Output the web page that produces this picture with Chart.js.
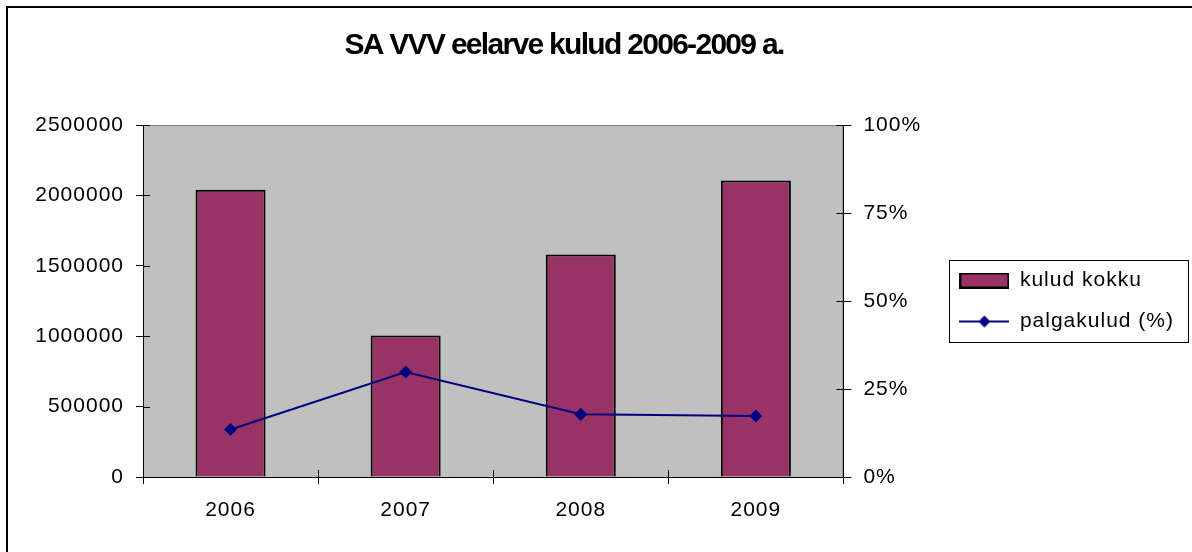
<!DOCTYPE html>
<html>
<head>
<meta charset="utf-8">
<script src="https://cdn.jsdelivr.net/npm/chart.js@4.4.1/dist/chart.umd.min.js"></script>
<style>
  html, body { margin: 0; padding: 0; background: #fff; overflow: hidden; }
  #frame { position: absolute; left: 6px; top: 6px; width: 1300px; height: 700px; border-left: 2px solid #000; border-top: 2px solid #000; }
  #wrap { position: absolute; left: 0; top: 0; width: 1192px; height: 552px; }
</style>
</head>
<body>
<div id="frame"></div>
<div id="wrap"><canvas id="myChart"></canvas></div>
<script>
const years = ['2006', '2007', '2008', '2009'];
const kuludKokku = [2040000, 1005000, 1580000, 2105000];
const palgakulud = [0.135, 0.298, 0.178, 0.173];
const leftTicks = [0, 500000, 1000000, 1500000, 2000000, 2500000];
const rightTicks = [0, 0.25, 0.5, 0.75, 1];

Chart.defaults.font.family = '"Liberation Sans", Arial, sans-serif';
Chart.defaults.color = '#000';

// legend swatches like in Excel
function swatch(w, h, draw) {
    const c = document.createElement('canvas');
    c.width = w;
    c.height = h;
    draw(c.getContext('2d'));
    return c;
}
const barSwatch = swatch(50, 16, g => {
    g.fillStyle = '#993366';
    g.fillRect(1, 1, 48, 14);
    g.strokeStyle = '#000';
    g.lineWidth = 2;
    g.strokeRect(1, 1, 48, 14);
});
const lineSwatch = swatch(50, 14, g => {
    g.strokeStyle = '#000080';
    g.lineWidth = 2;
    g.beginPath();
    g.moveTo(0, 7);
    g.lineTo(50, 7);
    g.stroke();
    g.fillStyle = '#000080';
    g.beginPath();
    g.moveTo(25, 1);
    g.lineTo(31, 7);
    g.lineTo(25, 13);
    g.lineTo(19, 7);
    g.closePath();
    g.fill();
});
const swatches = [barSwatch, lineSwatch];

const plotArea = {
    id: 'plotArea',
    afterInit(chart) {
        // title text is set tighter than the axis text
        const tb = chart.titleBlock;
        const drawTitle = tb.draw.bind(tb);
        tb.draw = function () {
            chart.ctx.save();
            chart.ctx.letterSpacing = '-1.7px';
            drawTitle();
            chart.ctx.restore();
        };
    },
    beforeLayout(chart) {
        chart.ctx.letterSpacing = '1px';
    },
    beforeDraw(chart) {
        const { ctx, chartArea: a } = chart;
        ctx.letterSpacing = '1px';
        ctx.save();
        ctx.fillStyle = '#C0C0C0';
        ctx.fillRect(a.left, a.top, a.width, a.height);
        ctx.strokeStyle = '#808080';
        ctx.lineWidth = 1;
        ctx.strokeRect(a.left + 0.5, a.top + 0.5, a.width - 1, a.height);
        ctx.restore();
    },
    afterDraw(chart) {
        const { ctx, chartArea: a, scales } = chart;
        ctx.save();
        ctx.strokeStyle = '#000';
        ctx.lineWidth = 1;
        ctx.beginPath();
        scales.y.ticks.forEach((t, i) => {
            const y = Math.round(scales.y.getPixelForTick(i)) + 0.5;
            ctx.moveTo(a.left, y);
            ctx.lineTo(a.left + 7, y);
        });
        scales.y1.ticks.forEach((t, i) => {
            const y = Math.round(scales.y1.getPixelForTick(i)) + 0.5;
            ctx.moveTo(a.right - 7, y);
            ctx.lineTo(a.right, y);
        });
        const n = years.length;
        for (let i = 0; i <= n; i++) {
            const x = Math.round(a.left + i * a.width / n) + 0.5;
            ctx.moveTo(x, a.bottom - 7);
            ctx.lineTo(x, a.bottom);
        }
        ctx.stroke();

        // legend frame
        const hb = chart.legend.legendHitBoxes;
        if (hb && hb.length) {
            const left = hb[0].left - 10;
            const top = hb[0].top - 10;
            const right = Math.max(...hb.map(h => h.left + h.width)) + 14;
            const bottom = hb[hb.length - 1].top + hb[hb.length - 1].height + 10;
            ctx.strokeRect(Math.round(left) + 0.5, Math.round(top) + 0.5, Math.round(right - left), Math.round(bottom - top));
        }
        ctx.restore();
    }
};

const ctx = document.getElementById('myChart').getContext('2d');

const myChart = new Chart(ctx, {
    type: 'bar',
    data: {
        labels: years,
        datasets: [{
            label: 'kulud kokku',
            data: kuludKokku,
            backgroundColor: '#993366',
            borderColor: '#000',
            borderWidth: 2,
            categoryPercentage: 1,
            barPercentage: 0.4,
            yAxisID: 'y',
            order: 2
        }, {
            type: 'line',
            label: 'palgakulud (%)',
            data: palgakulud,
            borderColor: '#000080',
            backgroundColor: '#000080',
            borderWidth: 2,
            pointStyle: 'rectRot',
            pointRadius: 6,
            pointBorderWidth: 1,
            pointHoverRadius: 6,
            tension: 0,
            yAxisID: 'y1',
            order: 1
        }]
    },
    options: {
        responsive: true,
        maintainAspectRatio: false,
        animation: false,
        layout: {
            padding: { top: 12, left: -56, right: 8, bottom: 0 }
        },
        plugins: {
            title: {
                display: true,
                text: 'SA VVV eelarve kulud 2006-2009 a.',
                color: '#000',
                font: { size: 30, weight: 'bold' },
                padding: { top: 16, bottom: 61 }
            },
            legend: {
                position: 'right',
                fullSize: false,
                maxWidth: 300,
                labels: {
                    color: '#000',
                    font: { size: 21 },
                    usePointStyle: true,
                    pointStyleWidth: 50,
                    padding: 20,
                    sort: (a, b) => a.datasetIndex - b.datasetIndex,
                    generateLabels: chart => {
                        const items = Chart.defaults.plugins.legend.labels.generateLabels(chart);
                        items.forEach(it => { it.pointStyle = swatches[it.datasetIndex]; });
                        return items;
                    }
                }
            },
            tooltip: { enabled: false }
        },
        scales: {
            x: {
                grid: { drawOnChartArea: false, tickLength: 7, color: '#000', offset: true },
                border: { color: '#000' },
                ticks: { color: '#000', font: { size: 21 }, padding: 14, maxRotation: 0 },
                afterFit: s => { s.height = 75; }
            },
            y: {
                position: 'left',
                min: leftTicks[0],
                max: leftTicks[leftTicks.length - 1],
                grid: { drawOnChartArea: false, tickLength: 7, color: '#000' },
                border: { color: '#000' },
                ticks: {
                    stepSize: leftTicks[1] - leftTicks[0],
                    color: '#000',
                    font: { size: 21 },
                    padding: 12,
                    callback: v => String(v)
                },
                afterFit: s => { s.width = 199; }
            },
            y1: {
                position: 'right',
                min: rightTicks[0],
                max: rightTicks[rightTicks.length - 1],
                grid: { drawOnChartArea: false, tickLength: 8, color: '#000' },
                border: { color: '#000' },
                ticks: {
                    stepSize: rightTicks[1] - rightTicks[0],
                    color: '#000',
                    font: { size: 21 },
                    padding: 12,
                    callback: v => Math.round(v * 100) + '%'
                },
                afterFit: s => { s.width = 96; }
            }
        }
    },
    plugins: [plotArea]
});
</script>
</body>
</html>
